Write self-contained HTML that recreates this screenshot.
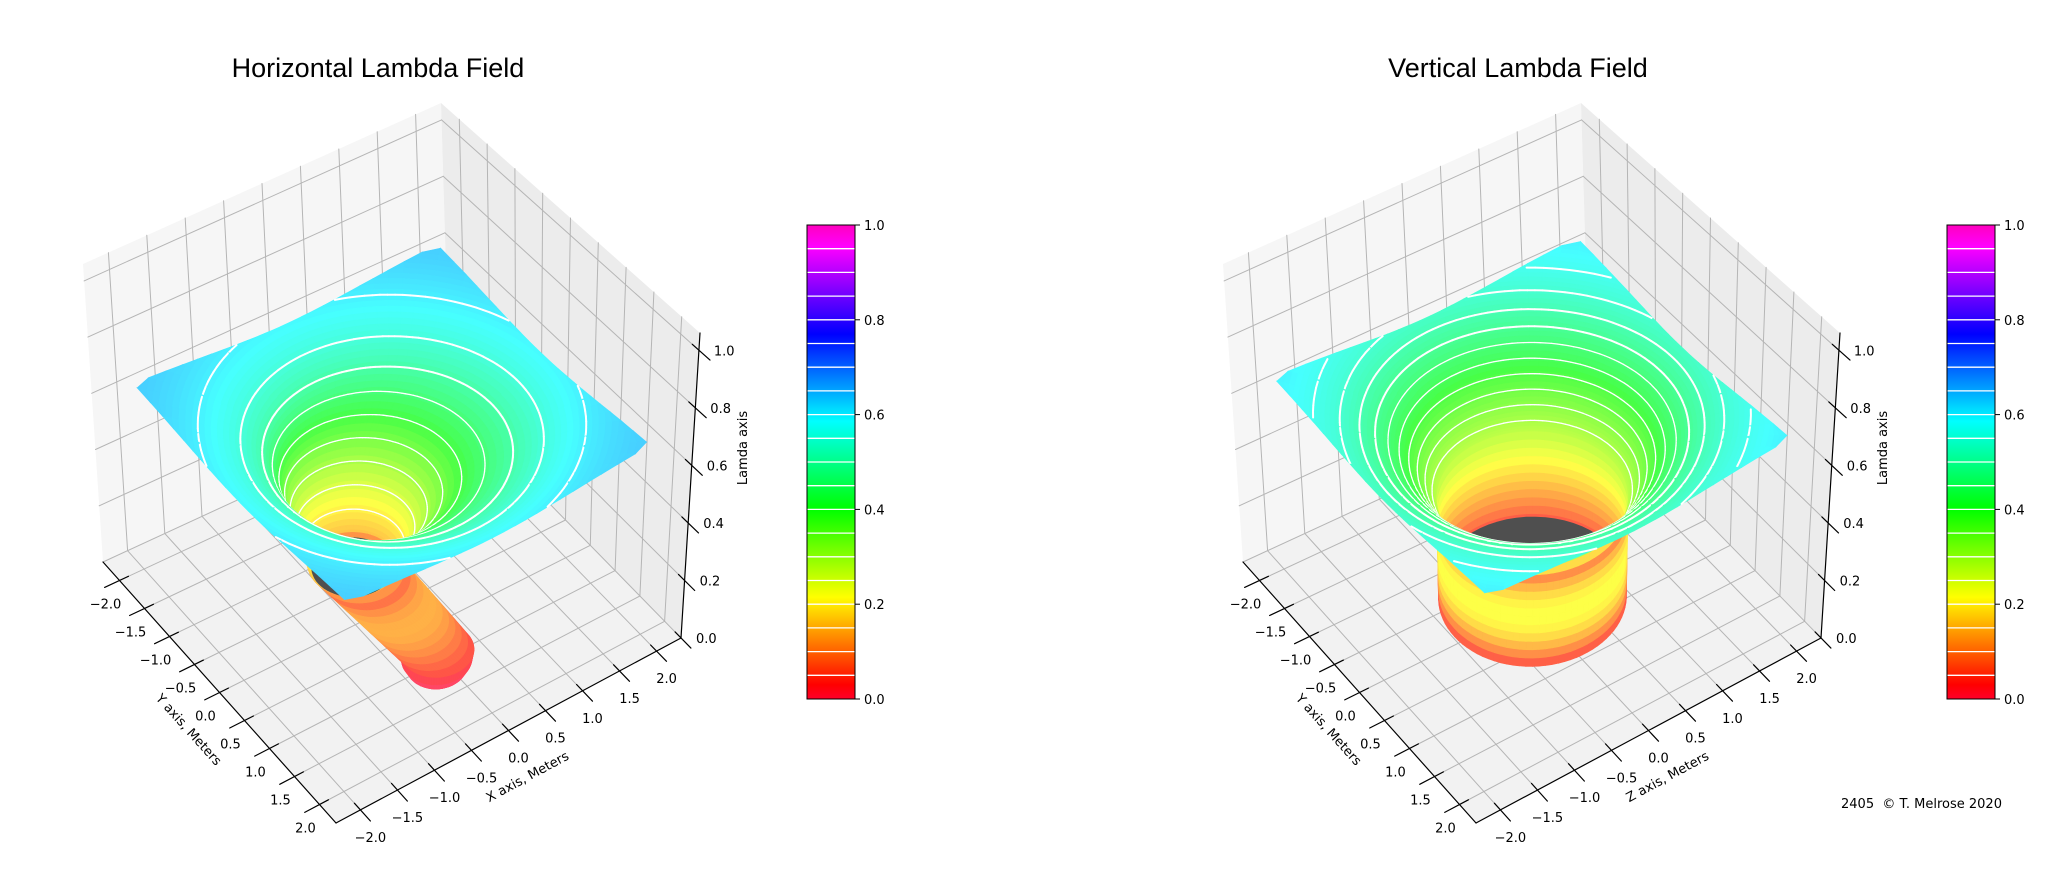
<!DOCTYPE html>
<html><head><meta charset="utf-8">
<style>html,body{margin:0;padding:0;background:#fff;overflow:hidden}svg{display:block}</style>
</head><body>
<svg id="s" width="2067" height="896" viewBox="0 0 2067 896" xmlns="http://www.w3.org/2000/svg">
<defs>
<linearGradient id="cb" x1="0" y1="1" x2="0" y2="0">
<stop offset="0" stop-color="rgb(255,0,41)"/><stop offset="0.03" stop-color="rgb(255,0,0)"/>
<stop offset="0.215" stop-color="rgb(255,255,0)"/><stop offset="0.4" stop-color="rgb(0,255,0)"/>
<stop offset="0.586" stop-color="rgb(0,255,255)"/><stop offset="0.77" stop-color="rgb(0,0,255)"/>
<stop offset="0.954" stop-color="rgb(255,0,255)"/><stop offset="1" stop-color="rgb(255,0,191)"/>
</linearGradient>
</defs>
<rect width="2067" height="896" fill="#fff"/>
<g id="g"></g>
<text x="378" y="77" font-size="27" text-anchor="middle" font-family="Liberation Sans, Arial, sans-serif">Horizontal Lambda Field</text>
<text x="1518" y="77" font-size="27" text-anchor="middle" font-family="Liberation Sans, Arial, sans-serif">Vertical Lambda Field</text>
<g id="cbs"></g>
<text x="1841" y="808" font-size="13" font-family="DejaVu Sans, Liberation Sans, sans-serif" xml:space="preserve">2405  © T. Melrose 2020</text>
</svg>
<script>
(function(){
const GR=[[0,[1,0,.16]],[.03,[1,0,0]],[.215,[1,1,0]],[.4,[0,1,0]],[.586,[0,1,1]],[.77,[0,0,1]],[.954,[1,0,1]],[1,[1,0,.75]]];
function cm(t){t=Math.max(0,Math.min(1,t));for(let i=1;i<GR.length;i++){if(t<=GR[i][0]){const a=GR[i-1],b=GR[i];const f=(t-a[0])/(b[0]-a[0]);return a[1].map((v,k)=>v+(b[1][k]-v)*f);}}return GR[GR.length-1][1];}
function col(t,al){const c=cm(t);return 'rgb('+c.map(v=>Math.round(255*(1-al)+255*v*al)).join(',')+')';}
const FT='font-family="DejaVu Sans, Liberation Sans, sans-serif" font-size="13"';
function f1(v){return v.toFixed(1);}
function lab(t){return (t<0?'\u2212':'')+Math.abs(t).toFixed(1);}
let all='';
function panel(dx,left){
 const L=[1243+dx,562],B=[1590+dx,402],F=[1476+dx,823],R=[1821+dx,638],Lt=[1223+dx,264],Bt=[1581+dx,103],Rt=[1840+dx,333],Ft=[1484+dx,519];
 const A=2.33,ZM=1.06;
 function P(x,y,z){const u=(x+A)/(2*A),v=(y+A)/(2*A),w=z/ZM;
  const f=k=>L[k]*(1-u)*(1-v)+B[k]*u*(1-v)+F[k]*(1-u)*v+R[k]*u*v;
  const t=k=>Lt[k]*(1-u)*(1-v)+Bt[k]*u*(1-v)+Ft[k]*(1-u)*v+Rt[k]*u*v;
  const a=f(0),b=f(1);return [a+w*(t(0)-a),b+w*(t(1)-b)];}
 const pts=a=>a.map(p=>f1(p[0])+','+f1(p[1])).join(' ');
 const poly=(a,fill,extra)=>'<polygon points="'+pts(a)+'" fill="'+fill+'"'+(extra||'')+'/>';
 const ln=(a,b,st,w)=>'<line x1="'+f1(a[0])+'" y1="'+f1(a[1])+'" x2="'+f1(b[0])+'" y2="'+f1(b[1])+'" stroke="'+st+'" stroke-width="'+w+'" stroke-linecap="round"/>';
 let o='';
 o+=poly([P(-A,-A,0),P(A,-A,0),P(A,A,0),P(-A,A,0)],'#f2f2f2');
 o+=poly([P(-A,-A,0),P(A,-A,0),P(A,-A,ZM),P(-A,-A,ZM)],'#f6f6f6');
 o+=poly([P(A,-A,0),P(A,A,0),P(A,A,ZM),P(A,-A,ZM)],'#ececec');
 const T=[-2,-1.5,-1,-.5,0,.5,1,1.5,2],Z=[0,.2,.4,.6,.8,1];
 const gc='#b5b5b5';
 T.forEach(t=>{o+=ln(P(t,-A,0),P(t,A,0),gc,1);o+=ln(P(-A,t,0),P(A,t,0),gc,1);
  o+=ln(P(t,-A,0),P(t,-A,ZM),gc,1);o+=ln(P(A,t,0),P(A,t,ZM),gc,1);});
 Z.forEach(z=>{o+=ln(P(-A,-A,z),P(A,-A,z),gc,1);o+=ln(P(A,-A,z),P(A,A,z),gc,1);});
 o+=ln(P(-A,-A,0),P(-A,A,0),'#000',1.2);o+=ln(P(-A,A,0),P(A,A,0),'#000',1.2);o+=ln(P(A,A,0),P(A,A,ZM),'#000',1.2);
 T.forEach(t=>{o+=ln(P(-A+0.12,t,0),P(-A-0.2,t,0),'#000',1.2);o+=ln(P(t,A-0.12,0),P(t,A+0.2,0),'#000',1.2);
  let p=P(-A,t,0);o+='<text x="'+f1(p[0]-14)+'" y="'+f1(p[1]+28)+'" text-anchor="middle" '+FT+'>'+lab(t)+'</text>';
  p=P(t,A,0);o+='<text x="'+f1(p[0]+10)+'" y="'+f1(p[1]+32)+'" text-anchor="middle" '+FT+'>'+lab(t)+'</text>';});
 Z.forEach(z=>{o+=ln(P(A,A-0.12,z),P(A,A+0.2,z),'#000',1.2);const p=P(A,A,z);
  o+='<text x="'+f1(p[0]+15)+'" y="'+f1(p[1]+5)+'" '+FT+'>'+z.toFixed(1)+'</text>';});
 let p=P(-A,0,0);o+='<text transform="translate('+f1(p[0]-34)+','+f1(p[1]+40)+') rotate(48)" text-anchor="middle" '+FT+'>Y axis, Meters</text>';
 p=P(0,A,0);o+='<text transform="translate('+f1(p[0]+21)+','+f1(p[1]+50)+') rotate(-28.5)" text-anchor="middle" '+FT+'>'+(left?'X':'Z')+' axis, Meters</text>';
 o+='<text transform="translate('+(742+(left?0:1140)+5)+',448) rotate(-90)" text-anchor="middle" '+FT+'>Lamda axis</text>';
 const near=(x,y,z)=>(56*y-40*x)*1.43+203*z;
 const rsq=th=>2/Math.max(Math.abs(Math.cos(th)),Math.abs(Math.sin(th)));
 const M=90,rings=[];
 const TV=Math.atan2(0.81,-0.58);
 let zf,cf,inv,shf;
 if(!left){
  zf=r=>0.38+0.31*(1-Math.exp(-(r-1.05)/0.5));
  cf=r=>0.28+0.36*(1-Math.exp(-(r-1.05)/0.8));
  inv=l=>1.05-0.8*Math.log(1-(l-0.28)/0.36);
  shf=r=>[0,0];
  const N=45;
  for(let i=0;i<=N;i++){const r=1.05+1.78*Math.pow(1-i/N,1.6);const ring=[];
   for(let k=0;k<=M;k++){const th=2*Math.PI*k/M;const rr=Math.min(r,rsq(th));ring.push([rr*Math.cos(th),rr*Math.sin(th),zf(rr),cf(rr)]);}rings.push(ring);}
  for(let j=1;j<=12;j++){const z=0.03+0.35*(1-j/12);const ring=[];
   const back=0.28*Math.pow((z-0.03)/0.35,0.8);
   const front=0.03+0.19*Math.sin(Math.PI*j/12);
   for(let k=0;k<=M;k++){const th=2*Math.PI*k/M;const f=Math.max(0,Math.min(1,Math.cos(th-TV)*3+0.3));
    ring.push([1.05*Math.cos(th),1.05*Math.sin(th),z,back*(1-f)+front*f]);}rings.push(ring);}
 }else{
  zf=r=>0.03+0.64*(1-Math.exp(-(r-0.45)/0.6));
  cf=r=>0.66*(1-Math.exp(-(r-0.3)/0.75));
  inv=l=>0.3-0.75*Math.log(1-l/0.66);
  shf=r=>{let s=Math.max(0,Math.min(1,(1.6-r)/1.15));s=s*s*(3-2*s);return [-0.2*s,-0.5*s];};
  const N=45;
  for(let i=0;i<=N;i++){const r=0.5+2.33*Math.pow(1-i/N,1.5);const c0=shf(r);const ring=[];
   for(let k=0;k<=M;k++){const th=2*Math.PI*k/M;
    if(r>1.6){const rr=Math.min(r,rsq(th));ring.push([rr*Math.cos(th),rr*Math.sin(th),zf(rr),cf(rr)]);}
    else ring.push([c0[0]+r*Math.cos(th),c0[1]+r*Math.sin(th),zf(r),cf(r)]);}
   rings.push(ring);}
  const e=[0.4,0.3];
  for(let j=1;j<=12;j++){const t=j/12;const cx=-0.2+(e[0]+0.2)*t,cy=-0.5+(e[1]+0.5)*t,r=0.5-0.08*t,z=zf(0.5)-(zf(0.5)+0.15)*t,c=0.02+0.18*Math.sin(Math.PI*t*0.9)*(1-0.7*t);const ring=[];
   for(let k=0;k<=M;k++){const th=2*Math.PI*k/M;ring.push([cx+r*Math.cos(th),cy+r*Math.sin(th),z,c]);}rings.push(ring);}
  for(let j=1;j<=5;j++){const a=j/5*Math.PI/2;const r=0.42*Math.cos(a),z=-0.15-0.1*Math.sin(a);const ring=[];
   for(let k=0;k<=M;k++){const th=2*Math.PI*k/M;ring.push([e[0]+r*Math.cos(th),e[1]+r*Math.sin(th),z,0.0]);}rings.push(ring);}
 }
 const items=[];
 {let cx=0,cy=0,r=1.04,z=0.08,d=-15;if(left){cx=-0.2;cy=-0.5;r=0.46;z=0.07;d=near(cx,cy,z)+60;}
  const a=[];for(let k=0;k<60;k++){const th=2*Math.PI*k/60;a.push(P(cx+r*Math.cos(th),cy+r*Math.sin(th),z));}
  items.push([d,poly(a,'#4f4f4f')]);}
 for(let i=0;i<rings.length-1;i++){const a=rings[i],b=rings[i+1];
  for(let k=0;k<M;k++){const q=[a[k],a[k+1],b[k+1],b[k]];
   const s=q.map(p=>P(p[0],p[1],p[2]));
   let ar=0;for(let m=0;m<4;m++){const n=(m+1)%4;ar+=s[m][0]*s[n][1]-s[n][0]*s[m][1];}
   if(Math.abs(ar)<0.02)continue;
   const c=(q[0][3]+q[1][3]+q[2][3]+q[3][3])/4;
   const d=q.reduce((acc,p)=>acc+near(p[0],p[1],p[2]),0)/4;
   const fc=col(c,0.72);
   items.push([d,poly(s,fc,' stroke="'+fc+'" stroke-width="0.6"')]);}}
 const lv=left?[0.05,0.1,0.15,0.2,0.25,0.3,0.35,0.4,0.45,0.5,0.55,0.6,0.65]:[0.3,0.33,0.36,0.39,0.42,0.45,0.48,0.51,0.54,0.57,0.6,0.625];
 lv.forEach(l=>{const r=inv(l);if(!(r>0)||!isFinite(r))return;if(left&&r<0.52)return;if(!left&&r<1.08)return;
  const c0=shf(r);const K=160;let prev=null;const w=l>0.45?2:1.3;
  for(let k=0;k<=K;k++){const th=2*Math.PI*k/K;const x=c0[0]+r*Math.cos(th),y=c0[1]+r*Math.sin(th);
   const inside=Math.abs(x)<=2.0&&Math.abs(y)<=2.0;const pt=[x,y,zf(r)];
   if(inside&&prev){const a=P(prev[0],prev[1],prev[2]),b=P(x,y,pt[2]);
    items.push([near((x+prev[0])/2,(y+prev[1])/2,pt[2])+8,ln(a,b,'#fff',w)]);}
   prev=inside?pt:null;}});
 items.sort((a,b)=>a[0]-b[0]);
 o+=items.map(t=>t[1]).join('');
 all+=o;
}
panel(-1140,true);panel(0,false);
document.getElementById('g').innerHTML=all;
let cb='';
[807,1947].forEach(x=>{const y0=225,y1=699,h=y1-y0;
 cb+='<rect x="'+x+'" y="'+y0+'" width="48" height="'+h+'" fill="url(#cb)"/>';
 for(let i=1;i<20;i++){const y=y1-h*i/20;cb+='<line x1="'+x+'" x2="'+(x+48)+'" y1="'+f1(y)+'" y2="'+f1(y)+'" stroke="#fff" stroke-width="1.3"/>';}
 cb+='<rect x="'+x+'" y="'+y0+'" width="48" height="'+h+'" fill="none" stroke="#000" stroke-width="1"/>';
 for(let i=0;i<=5;i++){const y=y1-h*i/5;cb+='<line x1="'+(x+48)+'" x2="'+(x+53)+'" y1="'+f1(y)+'" y2="'+f1(y)+'" stroke="#000" stroke-width="1"/>';
  cb+='<text x="'+(x+57)+'" y="'+f1(y+5)+'" '+FT+'>'+(i/5).toFixed(1)+'</text>';}
});
document.getElementById('cbs').innerHTML=cb;
})();
</script>
</body></html>
